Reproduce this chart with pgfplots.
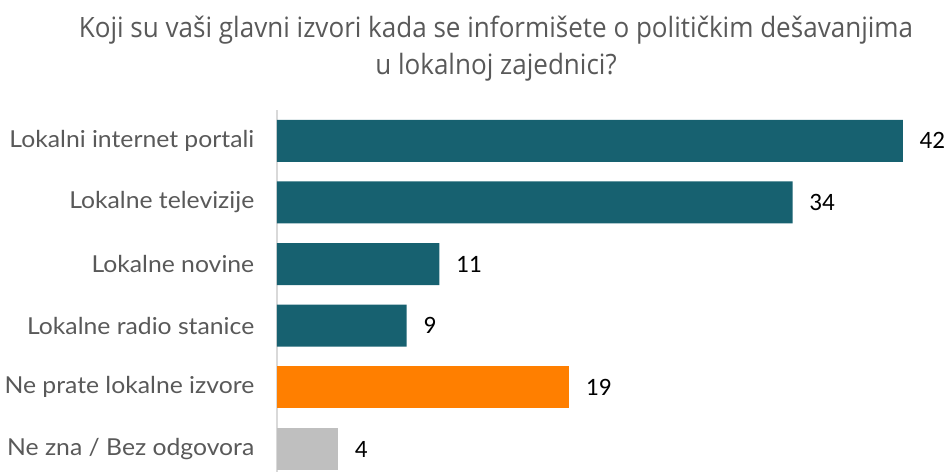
\documentclass[border=0pt]{standalone}
\usepackage{pgfplots}
\pgfplotsset{compat=1.18}
\usepackage{fontspec}
\setmainfont{Lato}
\newfontfamily\labfont[FakeStretch=1.06]{Lato}
\newfontfamily\titlefont[FakeStretch=0.93]{Open Sans}
\newfontfamily\valfont{Carlito}
\definecolor{teal1}{HTML}{176170}
\definecolor{orng}{HTML}{FF7F00}
\definecolor{gry}{HTML}{BFBFBF}
\definecolor{txt}{HTML}{595959}
\definecolor{axl}{HTML}{D9D9D9}
\begin{document}
\begin{tikzpicture}
\path[use as bounding box] (-207.75pt,0) rectangle (502.5pt,354pt);
\begin{axis}[
  at={(0,0)}, anchor=south west,
  scale only axis, width=469.5pt, height=271.5pt,
  xmin=0, xmax=42,
  ymin=-0.5, ymax=5.373, y dir=reverse,
  axis x line=none,
  axis y line*=left,
  y axis line style={draw=axl, line width=1.3pt, -},
  major tick length=0,
  ytick={0,1,2,3,4,5},
  yticklabels={Lokalni internet portali, Lokalne televizije, Lokalne novine, Lokalne radio stanice, Ne prate lokalne izvore, Ne zna / Bez odgovora},
  yticklabel style={font=\labfont\fontsize{17.5}{19}\selectfont, text=txt, anchor=east, xshift=-13.5pt},
  xbar, bar width=31.5pt, bar shift=0pt,
  point meta=explicit symbolic,
  nodes near coords,
  nodes near coords style={font=\valfont\fontsize{18.75}{20}\selectfont, text=black, anchor=west, xshift=9pt},
  clip=false,
]
\addplot[fill=teal1, draw=none] coordinates {(42,0) [42] (34.6,1) [34] (10.9,2) [11] (8.7,3) [9]};
\addplot[fill=orng, draw=none] coordinates {(19.6,4) [19]};
\addplot[fill=gry, draw=none] coordinates {(4.1,5) [4]};
\end{axis}
\node[anchor=base, text=txt, font=\titlefont\fontsize{21}{24}\selectfont] at (164.25pt,326pt) {Koji su vaši glavni izvori kada se informišete o političkim dešavanjima};
\node[anchor=base, text=txt, font=\titlefont\fontsize{21}{24}\selectfont] at (164.25pt,298pt) {u lokalnoj zajednici?};
\end{tikzpicture}
\end{document}
